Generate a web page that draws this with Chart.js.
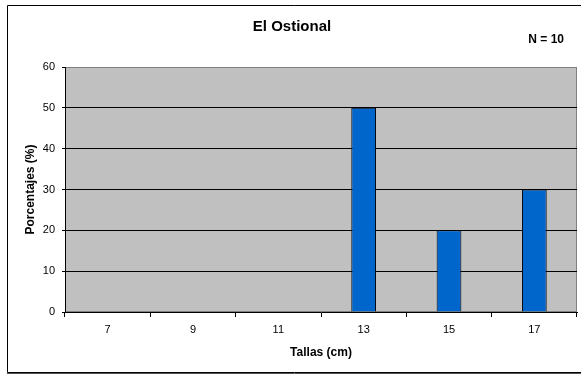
<!DOCTYPE html>
<html>
<head>
<meta charset="utf-8">
<script src="https://cdn.jsdelivr.net/npm/chart.js@4.4.1/dist/chart.umd.min.js"></script>
<style>
  html, body { margin: 0; padding: 0; background: #ffffff; }
  #wrap { width: 581px; height: 375px; position: relative; }
</style>
</head>
<body>
<div id="wrap"><canvas id="c" width="581" height="375"></canvas></div>
<script>
// Size classes (cm) and percentage of individuals in each class
const tallas = ['7', '9', '11', '13', '15', '17'];
const porcentajes = [0, 0, 0, 50, 20, 30];
const yTicks = [0, 10, 20, 30, 40, 50, 60];
const titulo = 'El Ostional';
const nota = 'N = 10';

const FONT = '"Liberation Sans", Arial, sans-serif';

// Grey plot background, outer frame and sample size note
const decor = {
  id: 'decor',
  beforeDraw(chart) {
    const { ctx, chartArea: a } = chart;
    ctx.save();
    ctx.fillStyle = '#ffffff';
    ctx.fillRect(0, 0, chart.width, chart.height);
    ctx.fillStyle = '#c0c0c0';
    ctx.fillRect(a.left, a.top, a.right - a.left, a.bottom - a.top);
    ctx.strokeStyle = '#808080';
    ctx.lineWidth = 1;
    ctx.strokeRect(a.left + 0.5, a.top + 0.5, a.right - a.left - 1, a.bottom - a.top - 1);
    ctx.restore();
  },
  afterDraw(chart) {
    const { ctx } = chart;
    ctx.save();
    ctx.strokeStyle = '#000000';
    ctx.lineWidth = 1;
    ctx.beginPath();
    ctx.moveTo(chart.width + 2, 5.5);
    ctx.lineTo(7.5, 5.5);
    ctx.lineTo(7.5, 372.5);
    ctx.lineTo(chart.width + 2, 372.5);
    ctx.stroke();
    ctx.strokeStyle = '#555555';
    ctx.beginPath();
    ctx.moveTo(7, 373.5);
    ctx.lineTo(chart.width + 2, 373.5);
    ctx.stroke();
    ctx.fillStyle = '#000000';
    ctx.font = 'bold 12px ' + FONT;
    ctx.textAlign = 'right';
    ctx.textBaseline = 'middle';
    ctx.fillText(nota, 564, 40);
    ctx.restore();
  }
};

new Chart(document.getElementById('c'), {
  type: 'bar',
  data: {
    labels: tallas,
    datasets: [{
      data: porcentajes,
      backgroundColor: '#0066cc',
      borderColor: '#000000',
      borderWidth: 1,
      categoryPercentage: 1,
      barPercentage: 0.29
    }]
  },
  options: {
    responsive: false,
    animation: false,
    devicePixelRatio: 1,
    layout: { padding: { top: 18, left: 7, right: 4, bottom: 2 } },
    plugins: {
      legend: { display: false },
      tooltip: { enabled: false },
      title: {
        display: true,
        text: titulo,
        color: '#000000',
        font: { family: FONT, size: 15, weight: 'bold', lineHeight: 1.2 },
        padding: { top: 0, bottom: 31 }
      }
    },
    scales: {
      x: {
        grid: {
          offset: true,
          drawOnChartArea: false,
          drawTicks: true,
          tickLength: 5,
          tickColor: '#000000'
        },
        border: { display: true, color: '#000000', width: 1 },
        ticks: {
          color: '#000000',
          padding: 6,
          font: { family: FONT, size: 11 }
        },
        title: {
          display: true,
          text: 'Tallas (cm)',
          color: '#000000',
          font: { family: FONT, size: 12, weight: 'bold', lineHeight: 1.2 },
          padding: { top: 0, bottom: 13 }
        },
        afterFit(scale) { scale.height = 61; }
      },
      y: {
        min: yTicks[0],
        max: yTicks[yTicks.length - 1],
        afterBuildTicks(scale) { scale.ticks = yTicks.map(v => ({ value: v })); },
        grid: {
          color: ctx => (ctx.tick && (ctx.tick.value === 0 || ctx.tick.value === 60)) ? 'rgba(0,0,0,0)' : '#000000',
          tickColor: '#000000',
          tickLength: 3,
          lineWidth: 1
        },
        border: { display: true, color: '#000000', width: 1 },
        ticks: {
          color: '#000000',
          padding: 7,
          font: { family: FONT, size: 11 }
        },
        title: {
          display: true,
          text: 'Porcentajes (%)',
          color: '#000000',
          font: { family: FONT, size: 12, weight: 'bold', lineHeight: 1.2 },
          padding: { top: 16, bottom: 0 }
        },
        afterFit(scale) { scale.width = 58; }
      }
    }
  },
  plugins: [decor]
});
</script>
</body>
</html>
